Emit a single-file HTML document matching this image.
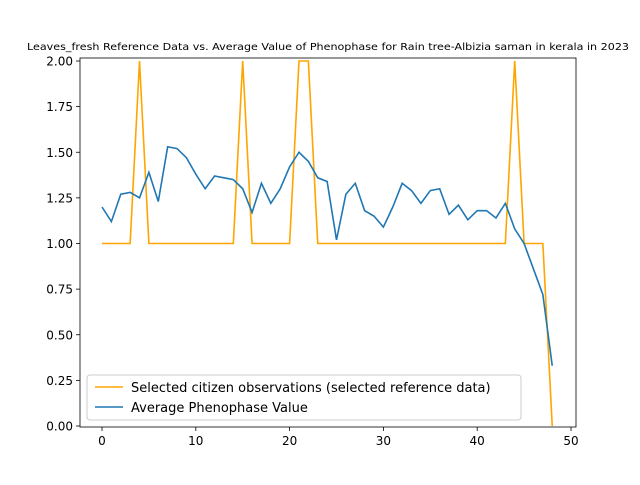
<!DOCTYPE html>
<html><head><meta charset="utf-8"><style>
body{margin:0;background:#fff;font-family:"Liberation Sans","DejaVu Sans",sans-serif;}
svg text{font-family:"DejaVu Sans","Liberation Sans",sans-serif;}
</style></head><body>
<svg id="chart" width="640" height="480">
<text x="27" y="50" font-size="10" textLength="602" lengthAdjust="spacingAndGlyphs">Leaves_fresh Reference Data vs. Average Value of Phenophase for Rain tree-Albizia saman in kerala in 2023</text>
<g id="ticks"></g>
<g id="series"></g>
<rect x="80" y="58" width="496" height="369" fill="none" stroke="#000" stroke-width="0.8"/>
<g>
<rect x="87" y="375" width="434" height="45" rx="3" fill="#fff" fill-opacity="0.8" stroke="#ccc"/>
<line x1="95" y1="387" x2="123" y2="387" stroke="orange" stroke-width="1.5"/>
<text x="131" y="392" font-size="13">Selected citizen observations (selected reference data)</text>
<line x1="95" y1="407" x2="123" y2="407" stroke="#1f77b4" stroke-width="1.5"/>
<text x="131" y="412" font-size="13">Average Phenophase Value</text>
</g>
</svg>
<script>
const refValues=[1,1,1,1,2,1,1,1,1,1,1,1,1,1,1,2,1,1,1,1,1,2,2,1,1,1,1,1,1,1,1,1,1,1,1,1,1,1,1,1,1,1,1,1,2,1,1,1,0];
const avgValues=[1.20,1.12,1.27,1.28,1.25,1.39,1.23,1.53,1.52,1.47,1.38,1.30,1.37,1.36,1.35,1.30,1.17,1.33,1.22,1.30,1.42,1.50,1.45,1.36,1.34,1.02,1.27,1.33,1.18,1.15,1.09,1.20,1.33,1.29,1.22,1.29,1.30,1.16,1.21,1.13,1.18,1.18,1.14,1.22,1.08,1.00,0.86,0.72,0.33];
const xTicks=[0,10,20,30,40,50];
const yTicks=[0,0.25,0.5,0.75,1,1.25,1.5,1.75,2];
const xs=v=>102+v*9.38, ys=v=>426-v*182.5;
const NS="http://www.w3.org/2000/svg";
const tg=document.getElementById('ticks'), sg=document.getElementById('series');
function mk(tag,attrs,parent){const e=document.createElementNS(NS,tag);for(const k in attrs)e.setAttribute(k,attrs[k]);parent.appendChild(e);return e;}
xTicks.forEach(t=>{
 const l=mk('line',{x1:xs(t),x2:xs(t),y1:427,y2:431,stroke:'#000','stroke-width':0.8},tg);
 
 
 const tx=mk('text',{x:xs(t),y:445,'font-size':12,'text-anchor':'middle'},tg);tx.textContent=t;
 
 
});
yTicks.forEach(t=>{
 const l=mk('line',{x1:76,x2:80,y1:ys(t),y2:ys(t),stroke:'#000','stroke-width':0.8},tg);
 
 
 const tx=mk('text',{x:73,y:ys(t)+4.5,'font-size':12,'text-anchor':'end'},tg);tx.textContent=t.toFixed(2);
 
 
});
const p1=mk('polyline',{points:refValues.map((v,i)=>xs(i)+','+ys(v)).join(' '),fill:'none',stroke:'orange','stroke-width':1.6},sg);


const p2=mk('polyline',{points:avgValues.map((v,i)=>xs(i)+','+ys(v)).join(' '),fill:'none',stroke:'#1f77b4','stroke-width':1.6},sg);


</script>
</body></html>
